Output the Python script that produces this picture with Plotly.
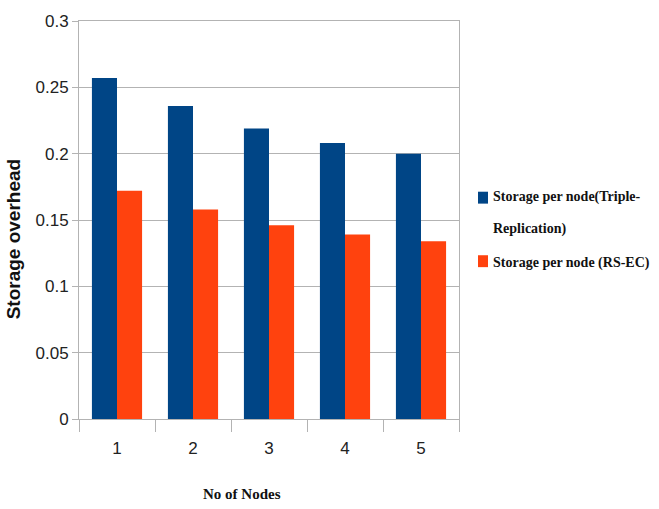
import plotly.graph_objects as go

# Storage overhead per node for each cluster size
nodes = ["1", "2", "3", "4", "5"]
triple_replication = [0.257, 0.236, 0.219, 0.208, 0.200]
rs_ec = [0.172, 0.158, 0.146, 0.139, 0.134]

series_names = ["Storage per node(Triple-Replication)", "Storage per node (RS-EC)"]
legend_lines = [["Storage per node(Triple-", "Replication)"], ["Storage per node (RS-EC)"]]
colors = ["#004586", "#ff420e"]

y_ticks = [0, 0.05, 0.1, 0.15, 0.2, 0.25, 0.3]

W, H = 659, 509
ML, MR, MT, MB = 79, 200, 18, 90
PW, PH = W - ML - MR, H - MT - MB


def px_x(px):
    return (px - ML) / PW


def px_y(py):
    return (H - MB - py) / PH


fig = go.Figure()
for name, vals, col in zip(series_names, [triple_replication, rs_ec], colors):
    fig.add_trace(go.Bar(x=nodes, y=vals, name=name, marker_color=col,
                         marker_line_width=0, showlegend=False))

grid = "#b3b3b3"
tick_font = dict(family="Liberation Sans Narrow, Liberation Sans", size=17, color="#222")
fig.update_layout(
    width=W, height=H,
    margin=dict(l=ML, r=MR, t=MT, b=MB),
    paper_bgcolor="white", plot_bgcolor="white",
    barmode="group", bargap=0.34, bargroupgap=0,
    xaxis=dict(
        type="category", showline=True, mirror=True, linecolor=grid, linewidth=1,
        ticks="outside", ticklen=12, tickcolor=grid, tickson="boundaries",
        tickfont=tick_font, ticklabelstandoff=14,
        showgrid=False,
    ),
    yaxis=dict(
        range=[0, 0.3], tickvals=y_ticks, ticktext=[f"{v:g}" for v in y_ticks],
        showline=True, mirror=True, linecolor=grid, linewidth=1,
        ticks="outside", ticklen=6, tickcolor=grid,
        showgrid=True, gridcolor=grid, gridwidth=1, zeroline=False,
        tickfont=tick_font,
    ),
)

annotations = [
    dict(text="<b>Storage overhead</b>", textangle=-90, x=px_x(13), y=px_y(238),
         font=dict(family="Liberation Sans", size=19, color="#111")),
    dict(text="<b>No of Nodes</b>", x=px_x(242), y=px_y(495),
         font=dict(family="Liberation Serif", size=15, color="#111")),
]

# Legend: colour swatch plus label lines
text_rows = [[195, 228], [262]]
swatch_rows = [(190, 202), (254, 266)]
shapes = []
for lines, rows, (top, bot), col in zip(legend_lines, text_rows, swatch_rows, colors):
    shapes.append(dict(type="rect", xref="paper", yref="paper",
                       x0=px_x(478), x1=px_x(488), y0=px_y(bot), y1=px_y(top),
                       fillcolor=col, line_width=0))
    for line, yy in zip(lines, rows):
        annotations.append(dict(text=f"<b>{line}</b>", x=px_x(491), y=px_y(yy),
                                xanchor="left",
                                font=dict(family="Liberation Serif", size=14, color="#111")))

for a in annotations:
    a.setdefault("xref", "paper")
    a.setdefault("yref", "paper")
    a.setdefault("showarrow", False)
    a.setdefault("yanchor", "middle")
    a.setdefault("xanchor", "center")
fig.update_layout(annotations=annotations, shapes=shapes)

fig.write_html("out.html")
